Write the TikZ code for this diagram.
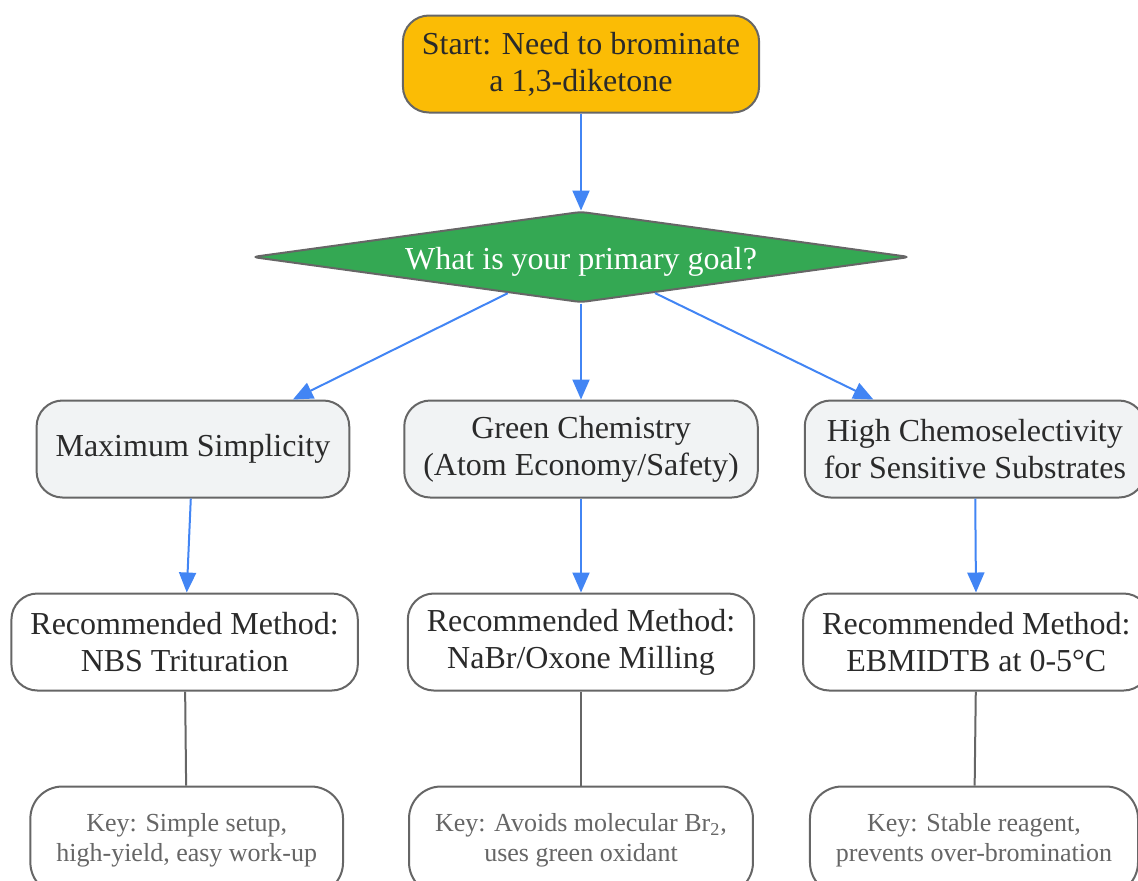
\documentclass[tikz,border=0pt]{standalone}
\usepackage{fontspec}
\setmainfont{Liberation Serif}
\usetikzlibrary{positioning,shapes.geometric,arrows.meta}
\definecolor{startfill}{HTML}{FBBC05}
\definecolor{goalfill}{HTML}{34A853}
\definecolor{choicefill}{HTML}{F1F3F4}
\definecolor{edgeblue}{HTML}{4285F4}
\definecolor{bordergrey}{HTML}{666666}
\definecolor{textdark}{HTML}{2A2A2A}

\begin{document}
\begin{tikzpicture}[node distance=48pt and 24pt,
  every node/.style={draw=bordergrey, line width=1pt, rounded corners=13pt, align=center, font=\fontsize{16}{18.5}\selectfont, text=textdark, inner xsep=9.5pt, minimum height=48.5pt},
  choice/.style={fill=choicefill},
  method/.style={fill=white},
  keynote/.style={fill=white, text=bordergrey, font=\fontsize{13}{15}\selectfont, inner xsep=13pt, rounded corners=16pt, minimum height=54pt},
  flow/.style={draw=edgeblue, line width=1pt, -{Triangle[length=10pt,width=8.5pt]}},
  link/.style={draw=bordergrey, line width=1pt}]
  \useasboundingbox (0,0) rectangle (569pt,-440pt);

  % Decision
  \node[fill=startfill] (Start) at (290.5pt,-32pt) {Start: Need to brominate\\a 1,3-diketone};
  \node[diamond, fill=goalfill, text=white, aspect=7.2, inner sep=0pt, minimum width=329pt, minimum height=45.5pt, rounded corners=3pt, text height=15.5pt, text depth=3.5pt, below=48.5pt of Start] (Goal) {What is your primary goal?};

  % Goals
  \node[choice, below=48pt of Goal] (Green) {Green Chemistry\\(Atom Economy/Safety)};
  \node[choice, left=26.5pt of Green] (Simple) {Maximum Simplicity};
  \node[choice, right=22.5pt of Green] (Chemo) {High Chemoselectivity\\for Sensitive Substrates};

  % Methods
  \node[method, below=47pt of Green] (NaBr) {Recommended Method:\\NaBr/Oxone Milling};
  \node[method, left=24pt of NaBr] (NBS) {Recommended Method:\\NBS Trituration};
  \node[method, right=23.5pt of NaBr] (EBM) {Recommended Method:\\EBMIDTB at 0-5°C};

  % Key points
  \node[keynote, below=47pt of NaBr] (KeyNaBr) {Key: Avoids molecular Br\textsubscript{2},\\uses green oxidant};
  \node[keynote, left=32pt of KeyNaBr] (KeyNBS) {Key: Simple setup,\\high-yield, easy work-up};
  \node[keynote, right=27.5pt of KeyNaBr] (KeyEBM) {Key: Stable reagent,\\prevents over-bromination};

  % Edges
  \draw[flow] (Start) -- (Goal);
  \draw[flow] (Goal) -- (Simple);
  \draw[flow] (Goal) -- (Green);
  \draw[flow] (Goal) -- (Chemo);
  \draw[flow] (Simple) -- (NBS);
  \draw[flow] (Green) -- (NaBr);
  \draw[flow] (Chemo) -- (EBM);
  \draw[link] (NBS) -- (KeyNBS);
  \draw[link] (NaBr) -- (KeyNaBr);
  \draw[link] (EBM) -- (KeyEBM);
\end{tikzpicture}
\end{document}
